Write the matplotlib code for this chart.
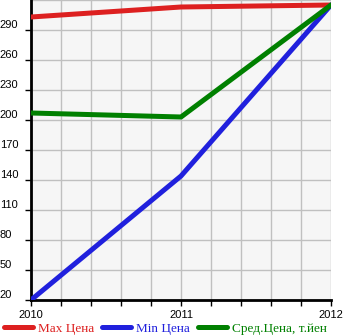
import matplotlib.pyplot as plt
import numpy as np

years = [2010, 2011, 2012]
max_price = [303, 313, 315]
min_price = [20, 144, 315]
avg_price = [207, 203, 315]
labels = ['Max Цена', 'Min Цена', 'Сред.Цена, т.йен']
colors = ['#dd2020', '#2020dd', '#008000']
yticks = [20, 50, 80, 110, 140, 170, 200, 230, 260, 290]

fig = plt.figure(figsize=(3.45, 3.35), dpi=100)
ax = fig.add_axes([31/345, 35/335, 300/345, 300/335])
ax.set_facecolor('#f6f6f6')

for vals, lab, c in zip([max_price, min_price, avg_price], labels, colors):
    ax.plot(years, vals, color=c, lw=3.6, label=lab, solid_capstyle='round', zorder=3)

ax.set_xlim(2010, 2012)
ax.set_ylim(20, 320)
xt = np.arange(2010, 2012.01, 0.2)
ax.set_xticks(xt)
ax.set_xticklabels([str(int(round(t))) if abs(t - round(t)) < 1e-6 else '' for t in xt])
ax.set_yticks(yticks)
ax.set_yticks(np.arange(20, 321, 30), minor=True)
ax.grid(True, which='both', color='#c0c0c0', lw=1)
ax.set_axisbelow(True)

for s in ['top', 'right']:
    ax.spines[s].set_visible(False)
for s in ['left', 'bottom']:
    ax.spines[s].set_linewidth(2)
    ax.spines[s].set_color('black')

ax.tick_params(axis='x', length=4, width=1, pad=3, labelsize=8)
ax.tick_params(axis='y', length=4, width=1, pad=18.5, labelsize=8)
ax.tick_params(which='minor', length=0)
for t in ax.get_xticklabels() + ax.get_yticklabels():
    t.set_fontfamily('Liberation Sans')
for t in ax.get_yticklabels():
    t.set_horizontalalignment('left')
    t.set_verticalalignment('bottom')

fig.legend(loc='lower left', bbox_to_anchor=(-0.005, -0.015), ncol=3, frameon=False,
           prop={'family': 'Liberation Serif', 'size': 9.5}, handlelength=2.2,
           handletextpad=0.4, columnspacing=0.6, borderaxespad=0)
leg = fig.legends[0]
for txt, c in zip(leg.get_texts(), colors):
    txt.set_color(c)

fig.savefig('out.png', dpi=100)
